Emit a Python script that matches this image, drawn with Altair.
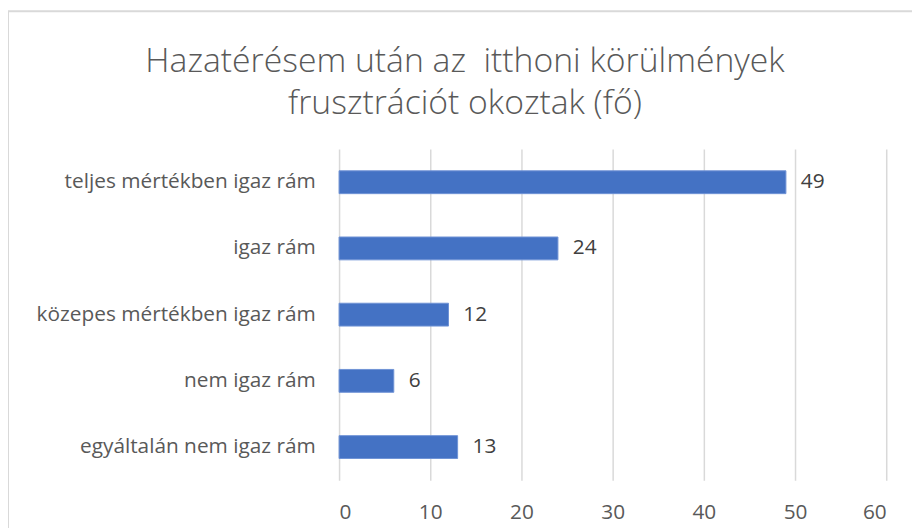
import altair as alt
import pandas as pd

CATEGORIES = [
    "teljes mértékben igaz rám",
    "igaz rám",
    "közepes mértékben igaz rám",
    "nem igaz rám",
    "egyáltalán nem igaz rám",
]
VALUES = [49, 24, 12, 6, 13]
TITLE_LINES = ["Hazatérésem után az\u00a0 itthoni körülmények", "frusztrációt okoztak (fő)"]
X_TICKS = [0, 10, 20, 30, 40, 50, 60]

df = pd.DataFrame({"cat": CATEGORIES, "val": VALUES})

FONT = "Open Sans"
BAR_COLOR = "#4472C4"
FS = 21

y_enc = alt.Y(
    "cat:N",
    sort=CATEGORIES,
    title=None,
    scale=alt.Scale(paddingInner=0.655, paddingOuter=0.3275),
    axis=alt.Axis(
        domain=False, ticks=False, labelPadding=24, labelFontSize=FS,
        labelColor="#595959", labelFont=FONT, grid=False, labelLimit=400,
    ),
)
x_enc = alt.X(
    "val:Q",
    title=None,
    scale=alt.Scale(domain=[0, 60], nice=False),
    axis=alt.Axis(
        values=X_TICKS, domain=False, ticks=False, grid=True, gridColor="#d9d9d9",
        gridWidth=1.5, labelPadding=22, labelFontSize=FS, labelColor="#595959",
        labelFont=FONT,
    ),
)

base = alt.Chart(df)

bars = base.mark_bar(color=BAR_COLOR, stroke="#6f93d6", strokeWidth=1).encode(x=x_enc, y=y_enc)

labels = base.mark_text(
    align="left", baseline="middle", dx=15, fontSize=FS, font=FONT, color="#404040"
).encode(x="val:Q", y=alt.Y("cat:N", sort=CATEGORIES), text="val:Q")

one = alt.Chart(pd.DataFrame({"a": [0]}))

frame = one.mark_rect(fill=None, stroke="#d9d9d9", strokeWidth=2).encode(
    x=alt.value(-334), x2=alt.value(700), y=alt.value(-139), y2=alt.value(600)
)

title1 = one.mark_text(
    fontSize=34, font=FONT, fontWeight=300, color="#595959", align="center", baseline="middle"
).encode(x=alt.value(127), y=alt.value(-88), text=alt.value(TITLE_LINES[0]))
title2 = one.mark_text(
    fontSize=34, font=FONT, fontWeight=300, color="#595959", align="center", baseline="middle"
).encode(x=alt.value(127), y=alt.value(-45), text=alt.value(TITLE_LINES[1]))

chart = alt.layer(frame, bars, labels, title1, title2).properties(
    width=552,
    height=334,
    autosize=alt.AutoSizeParams(type="none"),
    padding={"left": 334, "top": 140, "right": 26, "bottom": 60},
).configure_view(stroke=None)

chart.save("out.html", embed_options={"renderer": "svg", "actions": False})
